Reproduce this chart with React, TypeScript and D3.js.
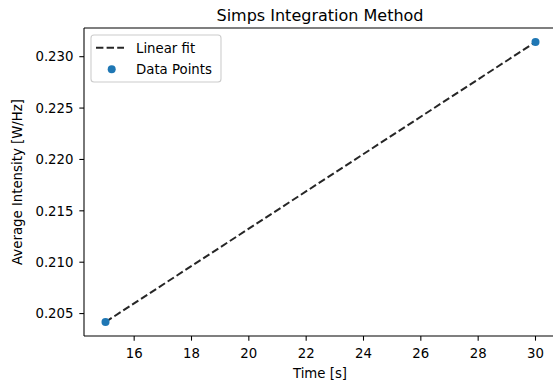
import * as React from "react";
import * as d3 from "d3";

// measured values
const times = [15, 30];
const intensity = [0.20418, 0.23143];
const xTicks = [16, 18, 20, 22, 24, 26, 28, 30];
const yTicks = [0.205, 0.21, 0.215, 0.22, 0.225, 0.23];
const legendItems = ["Linear fit", "Data Points"];

const W = 553;
const H = 388;
const m = { left: 84, right: 557, top: 28, bottom: 336 };
const font = "'DejaVu Sans', sans-serif";
const blue = "#1f77b4";

export default function App() {
  const [x0, x1] = d3.extent(times) as [number, number];
  const [y0, y1] = d3.extent(intensity) as [number, number];
  const padX = (x1 - x0) * 0.05;
  const padY = (y1 - y0) * 0.05;
  const x = d3.scaleLinear().domain([x0 - padX, x1 + padX]).range([m.left, m.right]);
  const y = d3.scaleLinear().domain([y0 - padY, y1 + padY]).range([m.bottom, m.top]);

  const pts = times.map((t, i) => [t, intensity[i]] as [number, number]);
  const line = d3
    .line<[number, number]>()
    .x((d) => x(d[0]))
    .y((d) => y(d[1]));

  const tickLen = 4.67;
  const fmt = d3.format(".3f");

  return (
    <svg
      width={W}
      height={H}
      viewBox={`0 0 ${W} ${H}`}
      style={{ position: "absolute", left: 0, top: 0, background: "#fff" }}
      fontFamily={font}
    >
      <rect width={W} height={H} fill="#fff" />

      <text x={320} y={20.5} textAnchor="middle" fontSize={16} fill="#000">
        Simps Integration Method
      </text>

      {/* fit line + points */}
      <path
        d={line(pts) ?? ""}
        fill="none"
        stroke="#000"
        strokeOpacity={0.85}
        strokeWidth={2}
        strokeDasharray="7.4 3.2"
      />
      {pts.map((d, i) => (
        <circle key={i} cx={x(d[0])} cy={y(d[1])} r={4} fill={blue} />
      ))}

      {/* spines */}
      <g stroke="#000" strokeWidth={1.07} fill="none">
        <line x1={m.left} x2={m.left} y1={m.top} y2={m.bottom} />
        <line x1={m.left} x2={m.right} y1={m.bottom} y2={m.bottom} />
        <line x1={m.left} x2={m.right} y1={m.top} y2={m.top} />
        <line x1={m.right} x2={m.right} y1={m.top} y2={m.bottom} />
      </g>

      {/* x axis */}
      {xTicks.map((t) => (
        <g key={t}>
          <line x1={x(t)} x2={x(t)} y1={m.bottom} y2={m.bottom + tickLen} stroke="#000" strokeWidth={1.07} />
          <text x={x(t)} y={358} textAnchor="middle" fontSize={13.3} fill="#000">
            {t}
          </text>
        </g>
      ))}
      <text x={320} y={377.5} textAnchor="middle" fontSize={13.3} fill="#000">
        Time [s]
      </text>

      {/* y axis */}
      {yTicks.map((t) => (
        <g key={t}>
          <line x1={m.left - tickLen} x2={m.left} y1={y(t)} y2={y(t)} stroke="#000" strokeWidth={1.07} />
          <text x={73.5} y={y(t) + 4.8} textAnchor="end" fontSize={13.3} fill="#000">
            {fmt(t)}
          </text>
        </g>
      ))}
      <text
        transform={`translate(21.5, ${(m.top + m.bottom) / 2}) rotate(-90)`}
        textAnchor="middle"
        fontSize={13.3}
        fill="#000"
      >
        Average Intensity [W/Hz]
      </text>

      {/* legend */}
      <g>
        <rect x={91} y={35} width={130} height={47} rx={3} fill="#fff" fillOpacity={0.8} stroke="#cccccc" strokeWidth={1.07} />
        <line x1={96} x2={124} y1={47.7} y2={47.7} stroke="#000" strokeOpacity={0.85} strokeWidth={2} strokeDasharray="7.4 3.2" />
        <circle cx={111.7} cy={69.3} r={4} fill={blue} />
        {legendItems.map((s, i) => (
          <text key={s} x={136} y={52.5 + i * 21} fontSize={13.3} fill="#000">
            {s}
          </text>
        ))}
      </g>
    </svg>
  );
}
